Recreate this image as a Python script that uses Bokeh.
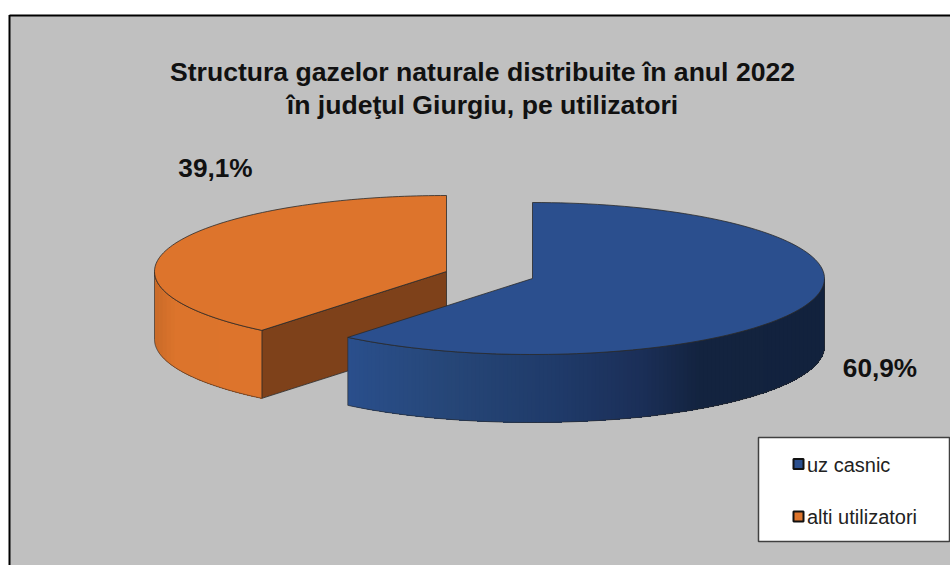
import numpy as np
from bokeh.plotting import figure
from bokeh.embed import file_html
from bokeh.resources import INLINE
from bokeh.core.properties import value

TITLE_LINES = ["Structura gazelor naturale distribuite în anul 2022", "în judeţul Giurgiu, pe utilizatori"]
CATEGORIES = ["uz casnic", "alti utilizatori"]
SHARES = [60.9, 39.1]
LABELS = ["60,9%", "39,1%"]

W, H = 950, 565
RX, RY, DEPTH = 292, 76, 68
BLUE_C = (532, 278)
ORANGE_C = (446, 271)
BLUE, ORANGE, BROWN = "#2b4f8e", "#dd742c", "#7e411a"
BG = "#c0c0c0"
EDGE = "#2a2a2a"
FONT = "Liberation Sans"

p = figure(width=W, height=H, x_range=(0, W), y_range=(H, 0),
           toolbar_location=None, output_backend="svg", min_border=0,
           background_fill_color="white", border_fill_color="white", outline_line_color=None)
p.axis.visible = False
p.grid.visible = False

# chart area
p.quad(left=[9], right=[960], top=[15], bottom=[580], fill_color=BG, line_color=None)
p.line([9, 9], [580, 14.5], line_color="#000000", line_width=2)
p.line([9, 960], [15, 15], line_color="#000000", line_width=2)


def pt(c, deg, dy=0):
    a = np.radians(deg)
    return c[0] + RX * np.sin(a), c[1] - RY * np.cos(a) + dy


def arc(c, a0, a1, dy=0, n=120):
    return pt(c, np.linspace(a0, a1, n), dy)


split = 360 * SHARES[0] / sum(SHARES)


def lerp_hex(stops, x):
    xs = [s[0] for s in stops]
    rgb = [np.interp(x, xs, [int(s[1][i:i + 2], 16) for s in stops]) for i in (1, 3, 5)]
    return "#%02x%02x%02x" % tuple(int(round(v)) for v in rgb)


def wall(c, a0, a1, stops, step):
    aa = np.linspace(a0, a1, 400)
    xs, ys = pt(c, aa)
    order = np.argsort(xs)
    xs, ys = xs[order], ys[order]
    lo, hi = xs[0], xs[-1]
    # each strip reaches the far end and is overpainted by the next one: no seams
    for l in np.arange(lo, hi, step):
        m = xs >= l
        sx = np.r_[l, xs[m]]
        sy = np.r_[np.interp(l, xs, ys), ys[m]]
        col = lerp_hex(stops, l + step / 2)
        p.patch(np.r_[sx, sx[::-1]], np.r_[sy, (sy + DEPTH)[::-1]], fill_color=col, line_color=None)
    bx, by = arc(c, a0, a1)
    p.line(np.r_[bx, bx[::-1], bx[0]], np.r_[by, (by + DEPTH)[::-1], by[0]], line_color=EDGE, line_width=0.8, line_alpha=0.8)


# orange slice: cut face, outer wall, top
ex, ey = pt(ORANGE_C, split)
fx = [ORANGE_C[0], ex, ex, ORANGE_C[0]]
fy = [ORANGE_C[1], ey, ey + DEPTH, ORANGE_C[1] + DEPTH]
p.patch(fx, fy, fill_color=BROWN, line_color=EDGE, line_width=0.8)
wall(ORANGE_C, split, 270, [(154, "#c96a28"), (175, "#dc742c"), (261, "#dd742c")], 4)
ax, ay = arc(ORANGE_C, split, 360)
p.patch(np.r_[ORANGE_C[0], ax], np.r_[ORANGE_C[1], ay], fill_color=ORANGE, line_color=EDGE, line_width=0.8)

# blue slice: outer wall, top
wall(BLUE_C, 90, split,
     [(347, "#2a4f8c"), (450, "#264677"), (560, "#1f3a69"), (640, "#1b2f58"), (700, "#13233f"), (824, "#12223d")], 4)
bx, by = arc(BLUE_C, 0, split)
p.patch(np.r_[BLUE_C[0], bx], np.r_[BLUE_C[1], by], fill_color=BLUE, line_color=EDGE, line_width=0.8)

# title
p.text(x=[482, 482], y=[71.5, 104.5], text=TITLE_LINES, text_font=value(FONT), text_font_style="bold",
       text_font_size="26.6px", text_color="#111111", text_align="center", text_baseline="middle")

# data labels
p.text(x=[879.5, 215], y=[367.5, 167], text=LABELS, text_font=value(FONT), text_font_style="bold",
       text_font_size="26.2px", text_color="#111111", text_align="center", text_baseline="middle")

# legend
p.quad(left=[758], right=[949], top=[437], bottom=[541], fill_color="white", line_color="#404040", line_width=1.5)
p.rect(x=[798, 798], y=[463.5, 516], width=10, height=10, fill_color=[BLUE, ORANGE], line_color="#111111", line_width=2)
p.text(x=[806.5, 806.5], y=[464, 516.5], text=CATEGORIES, text_font=value(FONT), text_font_size="20px",
       text_color="#222222", text_align="left", text_baseline="middle")

open("out.html", "w").write(file_html(p, INLINE))
